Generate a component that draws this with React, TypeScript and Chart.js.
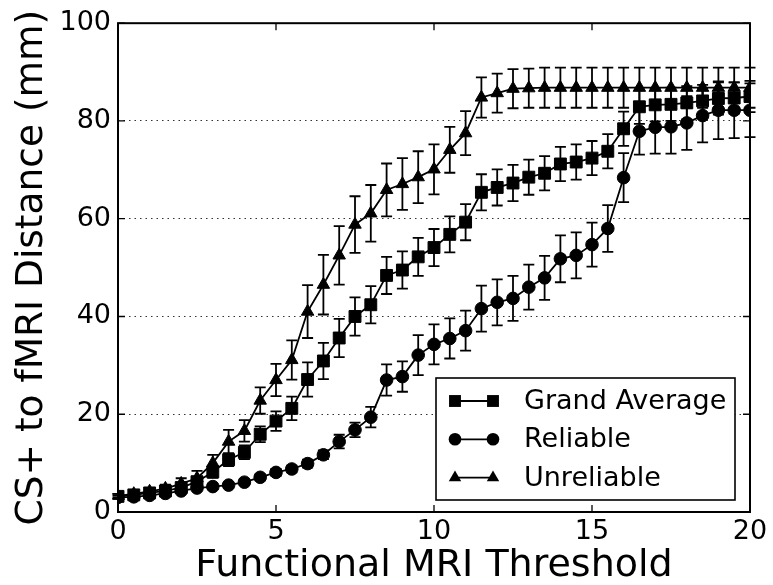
import { useEffect, useRef } from "react";
import { Chart, registerables } from "chart.js";

Chart.register(...registerables);

// Threshold steps along the x axis (0 to 20 in half steps)
const thresholds = [
  0, 0.5, 1, 1.5, 2, 2.5, 3, 3.5, 4, 4.5, 5, 5.5, 6, 6.5, 7, 7.5, 8, 8.5, 9, 9.5, 10,
  10.5, 11, 11.5, 12, 12.5, 13, 13.5, 14, 14.5, 15, 15.5, 16, 16.5, 17, 17.5, 18, 18.5, 19, 19.5, 20,
];

// Mean CS+ to fMRI distance (mm) and standard error for each group
const grandAverage = [
  3.2, 3.5, 3.9, 4.3, 5.0, 6.2, 8.2, 10.7, 12.2, 15.9, 18.6, 21.2, 27.1, 30.9, 35.6, 40.0, 42.4, 48.4, 49.5, 52.2, 54.1,
  56.8, 59.3, 65.4, 66.4, 67.3, 68.5, 69.3, 71.2, 71.6, 72.4, 73.8, 78.4, 82.9, 83.3, 83.4, 83.7, 84.1, 84.6, 84.7, 85.0,
];
const grandAverageErr = [
  0.5, 0.5, 0.6, 0.7, 0.8, 1.0, 1.2, 1.3, 1.4, 1.6, 2.0, 2.4, 3.5, 3.7, 3.9, 3.9, 3.8, 3.8, 3.8, 3.9, 3.8,
  3.7, 3.7, 3.7, 3.7, 3.7, 3.6, 3.5, 3.5, 3.6, 3.5, 3.5, 3.5, 3.5, 3.4, 3.4, 3.4, 3.3, 3.3, 3.2, 3.2,
];
const reliable = [
  3.0, 3.1, 3.4, 3.8, 4.3, 4.9, 5.2, 5.5, 6.1, 7.1, 8.1, 8.8, 9.9, 11.7, 14.4, 16.8, 19.4, 27.0, 27.7, 32.1, 34.3,
  35.5, 37.1, 41.6, 42.9, 43.7, 46.0, 47.9, 51.8, 52.5, 54.7, 58.0, 68.4, 77.9, 78.7, 78.8, 79.6, 81.1, 82.2, 82.2, 82.2,
];
const reliableErr = [
  0.3, 0.3, 0.3, 0.4, 0.4, 0.5, 0.5, 0.5, 0.6, 0.6, 0.7, 0.7, 0.8, 0.9, 1.4, 1.5, 2.1, 3.2, 3.1, 4.1, 4.1,
  4.1, 4.1, 4.7, 4.7, 4.6, 4.6, 4.5, 4.8, 4.7, 4.5, 4.8, 5.0, 4.8, 5.4, 5.5, 5.5, 5.5, 5.9, 5.7, 5.5,
];
const unreliable = [
  3.3, 3.7, 4.2, 4.8, 5.8, 6.9, 10.0, 14.4, 16.6, 22.8, 27.0, 31.1, 41.0, 46.5, 52.5, 58.8, 61.1, 65.9, 67.1, 68.5, 70.1,
  74.1, 77.5, 84.8, 85.7, 86.6, 86.7, 86.8, 86.8, 86.8, 86.8, 86.8, 86.8, 86.8, 86.8, 86.8, 86.8, 86.8, 86.8, 86.8, 86.8,
];
const unreliableErr = [
  0.4, 0.5, 0.6, 0.8, 1.1, 1.5, 1.7, 2.4, 2.2, 2.7, 3.3, 4.0, 5.4, 6.1, 6.0, 5.8, 5.8, 5.4, 5.3, 5.3, 5.1,
  4.7, 4.5, 4.1, 4.0, 4.0, 4.0, 4.1, 4.1, 4.1, 4.1, 4.1, 4.1, 4.1, 4.1, 4.1, 4.1, 4.1, 4.1, 4.1, 4.1,
];

const seriesNames = ["Grand Average", "Reliable", "Unreliable"];
const seriesValues = [grandAverage, reliable, unreliable];
const seriesErrors = [grandAverageErr, reliableErr, unreliableErr];
const seriesMarkers = ["rect", "circle", "triangle"] as const;
const markerRadius = [8.4, 6.3, 7.2];

const xTicks = [0, 5, 10, 15, 20];
const yTicks = [0, 20, 40, 60, 80, 100];

const FONT = "'DejaVu Sans', 'Liberation Sans', sans-serif";
const INK = "#000000";
const LINE_W = 1.8;

// Vertical error bars with caps, drawn under the markers
const errorBarPlugin = {
  id: "errorBars",
  beforeDatasetsDraw(chart: any) {
    const { ctx, scales } = chart;
    ctx.save();
    ctx.strokeStyle = INK;
    ctx.lineWidth = LINE_W;
    chart.data.datasets.forEach((ds: any, di: number) => {
      const errs = seriesErrors[di];
      ds.data.forEach((pt: any, i: number) => {
        const x = scales.x.getPixelForValue(pt.x);
        const yLo = scales.y.getPixelForValue(pt.y - errs[i]);
        const yHi = scales.y.getPixelForValue(pt.y + errs[i]);
        const cap = 5.5;
        ctx.beginPath();
        ctx.moveTo(x, yLo);
        ctx.lineTo(x, yHi);
        ctx.moveTo(x - cap, yLo);
        ctx.lineTo(x + cap, yLo);
        ctx.moveTo(x - cap, yHi);
        ctx.lineTo(x + cap, yHi);
        ctx.stroke();
      });
    });
    ctx.restore();
  },
};

// Legend handle markers, same geometry as the line chart's point styles
function drawMarker(ctx: CanvasRenderingContext2D, style: string, r: number, x: number, y: number) {
  ctx.beginPath();
  if (style === "rect") {
    const s = Math.SQRT1_2 * r;
    ctx.rect(x - s, y - s, 2 * s, 2 * s);
  } else if (style === "circle") {
    ctx.arc(x, y, r, 0, Math.PI * 2);
  } else {
    for (let k = 0; k < 3; k++) {
      const ang = (k * 2 * Math.PI) / 3;
      const px = x + Math.sin(ang) * r;
      const py = y - Math.cos(ang) * r;
      if (k === 0) ctx.moveTo(px, py);
      else ctx.lineTo(px, py);
    }
    ctx.closePath();
  }
  ctx.fill();
}

// Axes frame with inward ticks on all four sides, plus the boxed legend
const framePlugin = {
  id: "frameAndLegend",
  afterDraw(chart: any) {
    const { ctx, chartArea: a, scales } = chart;
    ctx.save();
    ctx.strokeStyle = INK;
    ctx.lineWidth = 2;
    ctx.strokeRect(a.left, a.top, a.right - a.left, a.bottom - a.top);

    const tick = 7;
    ctx.lineWidth = 1.3;
    ctx.beginPath();
    xTicks.forEach((v) => {
      const px = scales.x.getPixelForValue(v);
      ctx.moveTo(px, a.bottom);
      ctx.lineTo(px, a.bottom - tick);
      ctx.moveTo(px, a.top);
      ctx.lineTo(px, a.top + tick);
    });
    yTicks.forEach((v) => {
      const py = scales.y.getPixelForValue(v);
      ctx.moveTo(a.left, py);
      ctx.lineTo(a.left + tick, py);
      ctx.moveTo(a.right, py);
      ctx.lineTo(a.right - tick, py);
    });
    ctx.stroke();

    // legend box in the lower right corner
    const boxW = 299;
    const boxH = 122;
    const boxRight = a.right - 15;
    const boxBottom = a.bottom - 12;
    const bx = boxRight - boxW;
    const by = boxBottom - boxH;
    ctx.fillStyle = "#ffffff";
    ctx.fillRect(bx, by, boxW, boxH);
    ctx.lineWidth = 1.6;
    ctx.strokeRect(bx, by, boxW, boxH);

    ctx.font = `27px ${FONT}`;
    ctx.textBaseline = "middle";
    ctx.textAlign = "left";
    seriesNames.forEach((name, i) => {
      const cy = by + 23 + i * 38.3;
      const x1 = bx + 19;
      const x2 = bx + 57;
      ctx.strokeStyle = INK;
      ctx.lineWidth = LINE_W;
      ctx.beginPath();
      ctx.moveTo(x1, cy);
      ctx.lineTo(x2, cy);
      ctx.stroke();
      ctx.fillStyle = INK;
      drawMarker(ctx, seriesMarkers[i], markerRadius[i], x1, cy);
      drawMarker(ctx, seriesMarkers[i], markerRadius[i], x2, cy);
      ctx.fillStyle = INK;
      ctx.fillText(name, bx + 88, cy + 1);
    });
    ctx.restore();
  },
};

export default function App() {
  const canvasRef = useRef<HTMLCanvasElement | null>(null);

  useEffect(() => {
    const canvas = canvasRef.current;
    if (!canvas) return;

    const datasets = seriesNames.map((name, si) => ({
      label: name,
      data: thresholds.map((t, i) => ({ x: t, y: seriesValues[si][i] })),
      borderColor: INK,
      backgroundColor: INK,
      borderWidth: LINE_W,
      pointStyle: seriesMarkers[si],
      pointRadius: markerRadius[si],
      pointBorderWidth: 1,
      pointBackgroundColor: INK,
      pointBorderColor: INK,
      tension: 0,
      fill: false,
      order: 2 - si,
    }));

    const chart = new Chart(canvas, {
      type: "line",
      data: { datasets },
      options: {
        animation: false,
        responsive: false,
        devicePixelRatio: 1,
        layout: { padding: { top: 22, right: 23, left: 0, bottom: 0 } },
        plugins: {
          legend: { display: false },
          tooltip: { enabled: false },
        },
        scales: {
          x: {
            type: "linear",
            min: 0,
            max: 20,
            afterFit: (scale: any) => {
              scale.height = 73;
            },
            afterBuildTicks: (scale: any) => {
              scale.ticks = xTicks.map((v) => ({ value: v }));
            },
            ticks: {
              color: INK,
              font: { family: FONT, size: 27 },
              padding: 4,
              maxRotation: 0,
              autoSkip: false,
            },
            grid: { display: false, drawTicks: false },
            border: { display: false },
            title: {
              display: true,
              text: "Functional MRI Threshold",
              color: INK,
              font: { family: FONT, size: 38 },
              padding: { top: 0, bottom: -4 },
            },
          },
          y: {
            type: "linear",
            min: 0,
            max: 100,
            afterFit: (scale: any) => {
              scale.width = 118;
            },
            afterBuildTicks: (scale: any) => {
              scale.ticks = yTicks.map((v) => ({ value: v }));
            },
            ticks: {
              color: INK,
              font: { family: FONT, size: 27 },
              padding: 7,
              autoSkip: false,
            },
            grid: {
              drawTicks: false,
              lineWidth: 1,
              color: (c: any) =>
                c.tick && (c.tick.value === 0 || c.tick.value === 100) ? "rgba(0,0,0,0)" : "#333333",
            },
            border: { display: false, dash: [1.5, 4] },
            title: {
              display: true,
              text: "CS+ to fMRI Distance (mm)",
              color: INK,
              font: { family: FONT, size: 37.5 },
              padding: { top: 10, bottom: 0 },
            },
          },
        },
      },
      plugins: [errorBarPlugin, framePlugin],
    });

    return () => chart.destroy();
  }, []);

  return (
    <div style={{ position: "fixed", left: 0, top: 0, width: 773, height: 585, background: "#ffffff" }}>
      <canvas ref={canvasRef} width={773} height={585} style={{ width: 773, height: 585, display: "block" }} />
    </div>
  );
}
